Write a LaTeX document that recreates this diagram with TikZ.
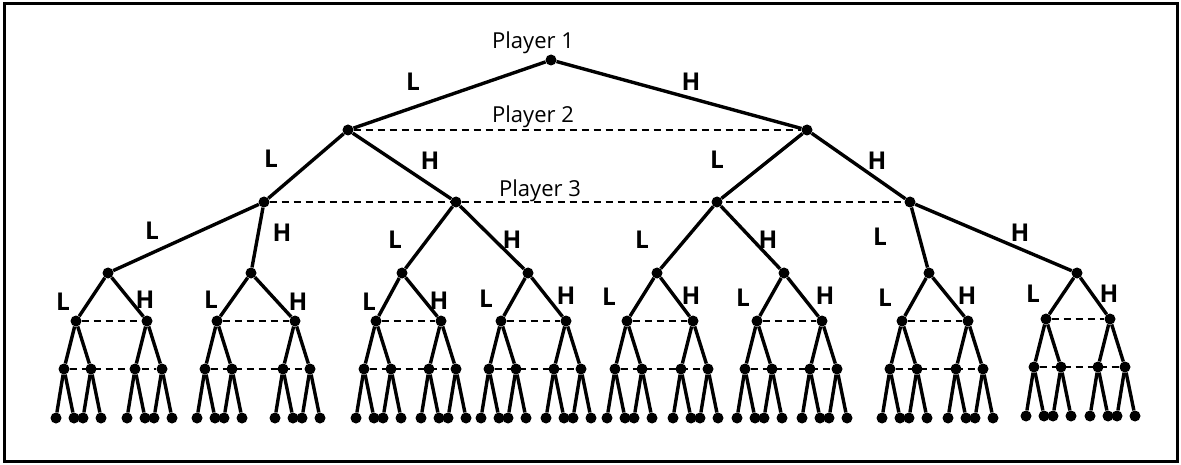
\documentclass[tikz,border=0pt]{standalone}
\usepackage{fontspec}
\setmainfont{Open Sans}
\begin{document}
\begin{tikzpicture}[x=1pt,y=-1pt,
  dot/.style={circle,fill=black,inner sep=0pt,minimum size=11pt},
  edge/.style={line width=3.4pt},
  info/.style={line width=1.6pt,dash pattern=on 7pt off 5pt},
  lab/.style={font=\fontsize{24.5}{24.5}\selectfont\bfseries},
  plab/.style={font=\fontsize{22}{22}\selectfont,anchor=base}]
\useasboundingbox (0,0) rectangle (1181,465);
\draw[line width=3pt] (4,4) rectangle (1177,461);
% top levels
\node[dot] (r) at (551,60) {};
\node[dot] (p2a) at (348,130) {};
\node[dot] (p2b) at (807,130) {};
\node[dot] (p3a) at (264,202) {};
\node[dot] (p3b) at (456,202) {};
\node[dot] (p3c) at (717,202) {};
\node[dot] (p3d) at (910,202) {};
\draw[edge] (r) -- (p2a);
\draw[edge] (r) -- (p2b);
\draw[edge] (p2a) -- (p3a);
\draw[edge] (p2a) -- (p3b);
\draw[edge] (p2b) -- (p3c);
\draw[edge] (p2b) -- (p3d);
\draw[info] (p2a) -- (p2b);
\draw[info] (p3a) -- (p3d);
% level 4
\foreach \i/\x in {1/108,2/251,3/402,4/528,5/657,6/784,7/929,8/1077}
  \node[dot] (s\i) at (\x,273) {};
\foreach \p/\i in {p3a/1,p3a/2,p3b/3,p3b/4,p3c/5,p3c/6,p3d/7,p3d/8}
  \draw[edge] (\p) -- (s\i);
% lower subtrees
\foreach \i/\xa/\xb/\dy in {1/76/147/0,2/217/295/0,3/376/441/0,4/501/566/0,5/627/693/0,6/757/822/0,7/902/968/0,8/1046/1110/-2}{
  \foreach \s/\x in {a/\xa,b/\xb}{
    \node[dot] (s\i-\s) at (\x,321+\dy) {};
    \draw[edge] (s\i) -- (s\i-\s);
    \node[dot] (s\i-\s-l) at (\x-12,369+\dy) {};
    \node[dot] (s\i-\s-r) at (\x+15,369+\dy) {};
    \draw[edge] (s\i-\s) -- (s\i-\s-l);
    \draw[edge] (s\i-\s) -- (s\i-\s-r);
    \node[dot] (s\i-\s-l-l) at (\x-20,418+\dy) {};
    \node[dot] (s\i-\s-l-r) at (\x-2,418+\dy) {};
    \node[dot] (s\i-\s-r-l) at (\x+7,418+\dy) {};
    \node[dot] (s\i-\s-r-r) at (\x+25,418+\dy) {};
    \draw[edge] (s\i-\s-l) -- (s\i-\s-l-l);
    \draw[edge] (s\i-\s-l) -- (s\i-\s-l-r);
    \draw[edge] (s\i-\s-r) -- (s\i-\s-r-l);
    \draw[edge] (s\i-\s-r) -- (s\i-\s-r-r);
  }
  \draw[info] (s\i-a) -- (s\i-b);
  \draw[info] (s\i-a-l) -- (s\i-b-r);
}
% player labels
\node[plab] (pl1) at (533,49) {Player 1};
\node[plab] (pl2) at (533,123) {Player 2};
\node[plab] (pl3) at (540,197) {Player 3};
% action labels
\foreach \n/\x/\y/\t in {
  a1/413/82/L, a2/691/82/H,
  b1/271/159/L, b2/430/161/H, b3/717/160/L, b4/877/161/H,
  c1/152/231/L, c2/282/233/H, c3/395/240/L, c4/512/240/H,
  c5/642/240/L, c6/768/240/H, c7/880/237/L, c8/1020/233/H,
  d1/63/302/L, d2/145/300/H, d3/211/300/L, d4/298/302/H,
  d5/369/302/L, d6/439/301/H, d7/486/299/L, d8/566/296/H,
  d9/609/297/L, d10/691/296/H, d11/743/298/L, d12/825/296/H,
  d13/885/298/L, d14/967/296/H, d15/1033/294/L, d16/1109/294/H}
  \node[lab] (\n) at (\x,\y) {\t};
\end{tikzpicture}
\end{document}
